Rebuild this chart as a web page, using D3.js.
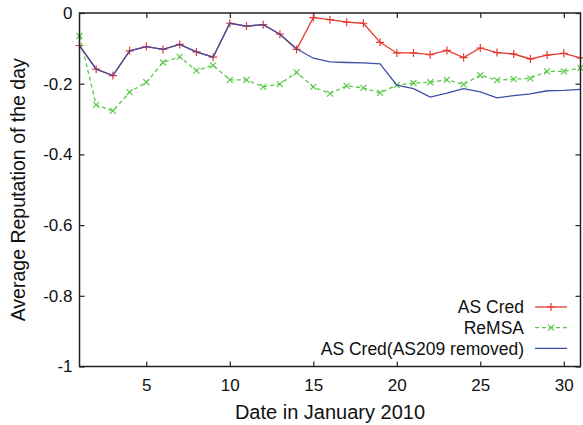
<!DOCTYPE html>
<html>
<head>
<meta charset="utf-8">
<script src="https://cdn.jsdelivr.net/npm/d3@7"></script>
<style>
  body { margin: 0; background: #fff; }
  text { font-family: "Liberation Sans", Arial, sans-serif; fill: #111; }
</style>
</head>
<body>
<div id="wrapper"></div>
<script>
// data
const days = d3.range(1, 32)
const asCred = [-0.092, -0.159, -0.177, -0.107, -0.095, -0.103, -0.089, -0.110, -0.125, -0.029,
  -0.037, -0.033, -0.060, -0.103, -0.013, -0.019, -0.026, -0.029, -0.083, -0.113,
  -0.113, -0.118, -0.106, -0.126, -0.099, -0.112, -0.116, -0.130, -0.119, -0.114, -0.127]
const reMSA = [-0.065, -0.260, -0.277, -0.224, -0.196, -0.140, -0.124, -0.163, -0.148, -0.189,
  -0.189, -0.209, -0.201, -0.168, -0.209, -0.228, -0.206, -0.212, -0.226, -0.204,
  -0.198, -0.196, -0.189, -0.202, -0.176, -0.190, -0.187, -0.185, -0.165, -0.165, -0.155]
const asCredNo209 = [-0.092, -0.159, -0.177, -0.107, -0.095, -0.103, -0.089, -0.110, -0.125, -0.029,
  -0.037, -0.033, -0.060, -0.101, -0.128, -0.138, -0.140, -0.141, -0.144, -0.204,
  -0.214, -0.238, -0.227, -0.214, -0.223, -0.240, -0.234, -0.229, -0.220, -0.219, -0.216]

const xTicks = [5, 10, 15, 20, 25, 30]
const yTicks = [0, -0.2, -0.4, -0.6, -0.8, -1]
const yTickLabels = ["0", "-0.2", "-0.4", "-0.6", "-0.8", "-1"]

const seriesNames = ["AS Cred", "ReMSA", "AS Cred(AS209 removed)"]
const seriesValues = [asCred, reMSA, asCredNo209]
const seriesColors = ["#e33a32", "#5bc94a", "#3b4fa8"]
const seriesMarkers = ["plus", "cross", null]
const seriesDash = [null, "4,3", null]

// dimensions
let dimensions = {
  width: 583,
  height: 425,
  margin: { top: 13, right: 2.5, bottom: 58.5, left: 79.5 },
}
dimensions.boundedWidth = dimensions.width - dimensions.margin.left - dimensions.margin.right
dimensions.boundedHeight = dimensions.height - dimensions.margin.top - dimensions.margin.bottom

const wrapper = d3.select("#wrapper")
  .append("svg")
    .attr("width", dimensions.width)
    .attr("height", dimensions.height)

const bounds = wrapper.append("g")
    .attr("transform", `translate(${dimensions.margin.left},${dimensions.margin.top})`)

// scales
const xScale = d3.scaleLinear()
  .domain([1, 31])
  .range([0, dimensions.boundedWidth])

const yScale = d3.scaleLinear()
  .domain([-1, 0])
  .range([dimensions.boundedHeight, 0])

// axes (ticks point inward, mirrored on all sides)
const tickLen = 5
const bottomAxis = bounds.append("g")
  .attr("transform", `translate(0,${dimensions.boundedHeight})`)
  .call(d3.axisBottom(xScale).tickValues(xTicks).tickSizeInner(-tickLen).tickSizeOuter(0).tickPadding(12))
const topAxis = bounds.append("g")
  .call(d3.axisTop(xScale).tickValues(xTicks).tickSizeInner(-tickLen).tickSizeOuter(0).tickFormat(""))
const leftAxis = bounds.append("g")
  .call(d3.axisLeft(yScale).tickValues(yTicks).tickSizeInner(-tickLen).tickSizeOuter(0).tickPadding(7)
    .tickFormat((d, i) => yTickLabels[i]))
const rightAxis = bounds.append("g")
  .attr("transform", `translate(${dimensions.boundedWidth},0)`)
  .call(d3.axisRight(yScale).tickValues(yTicks).tickSizeInner(-tickLen).tickSizeOuter(0).tickFormat(""))

;[bottomAxis, topAxis, leftAxis, rightAxis].forEach(ax => {
  ax.select(".domain").remove()
  ax.selectAll(".tick line").attr("stroke", "#222").attr("stroke-width", 1.2)
  ax.selectAll("text").attr("font-size", 17).attr("fill", "#111")
    .attr("font-family", "'Liberation Sans', Arial, sans-serif")
})

// lines
const lineGen = vals => d3.line()
  .x((d, i) => xScale(days[i]))
  .y(d => yScale(d))(vals)

const markerPath = (type, s) => type === "plus"
  ? `M${-s},0H${s}M0,${-s}V${s}`
  : `M${-s},${-s}L${s},${s}M${-s},${s}L${s},${-s}`

seriesValues.forEach((vals, k) => {
  const g = bounds.append("g")
  g.append("path")
    .attr("d", lineGen(vals))
    .attr("fill", "none")
    .attr("stroke", seriesColors[k])
    .attr("stroke-width", 1.3)
    .attr("stroke-dasharray", seriesDash[k])
  if (seriesMarkers[k]) {
    g.selectAll(".pt")
      .data(vals)
      .join("path")
        .attr("transform", (d, i) => `translate(${xScale(days[i])},${yScale(d)})`)
        .attr("d", markerPath(seriesMarkers[k], seriesMarkers[k] === "plus" ? 4 : 3))
        .attr("stroke", seriesColors[k])
        .attr("stroke-width", 1.2)
        .attr("fill", "none")
  }
})

// frame
bounds.append("rect")
  .attr("width", dimensions.boundedWidth)
  .attr("height", dimensions.boundedHeight)
  .attr("fill", "none")
  .attr("stroke", "#222")
  .attr("stroke-width", 1.5)

// legend
const legend = bounds.append("g")
  .attr("transform", `translate(${524 - dimensions.margin.left},${307 - dimensions.margin.top})`)
seriesNames.forEach((name, k) => {
  const row = legend.append("g").attr("transform", `translate(0,${k * 20.7})`)
  row.append("text")
    .attr("text-anchor", "end")
    .attr("dy", "0.35em")
    .attr("font-size", 17.5)
    .text(name)
  row.append("line")
    .attr("x1", 11).attr("x2", 43)
    .attr("stroke", seriesColors[k])
    .attr("stroke-width", 1.3)
    .attr("stroke-dasharray", seriesDash[k])
  if (seriesMarkers[k]) {
    row.append("path")
      .attr("transform", "translate(27,0)")
      .attr("d", markerPath(seriesMarkers[k], seriesMarkers[k] === "plus" ? 4 : 3))
      .attr("stroke", seriesColors[k])
      .attr("stroke-width", 1.2)
      .attr("fill", "none")
  }
})

// axis titles
wrapper.append("text")
  .attr("x", dimensions.margin.left + dimensions.boundedWidth / 2)
  .attr("y", 419)
  .attr("text-anchor", "middle")
  .attr("font-size", 20)
  .text("Date in January 2010")

wrapper.append("text")
  .attr("transform", `translate(25,${dimensions.margin.top + dimensions.boundedHeight / 2}) rotate(-90)`)
  .attr("text-anchor", "middle")
  .attr("font-size", 19.5)
  .text("Average Reputation of the day")
</script>
</body>
</html>
